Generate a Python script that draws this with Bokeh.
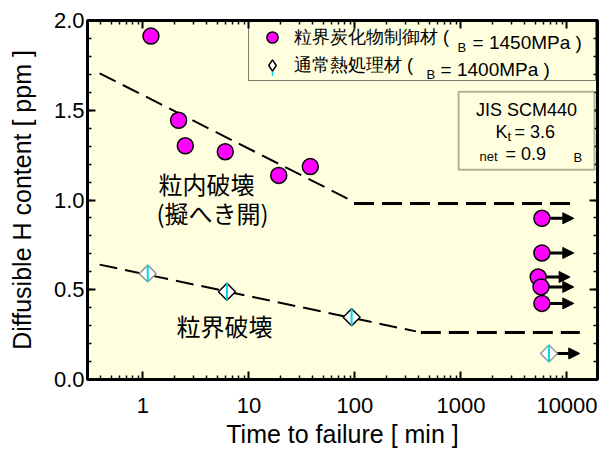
import math
from bokeh.plotting import figure
from bokeh.models import (ColumnDataSource, LinearAxis, LogAxis, FixedTicker,
                          SingleIntervalTicker, PrintfTickFormatter, Range1d, Label,
                          Arrow, NormalHead, BoxAnnotation, Legend, LegendItem)
from bokeh.embed import file_html
from bokeh.resources import INLINE

# ---------------- data ----------------
# grain-boundary-carbide-controlled steel (magenta circles)
cb_time = [1.19, 2.17, 2.51, 5.98, 19.1, 37.9]
cb_h = [1.913, 1.444, 1.302, 1.269, 1.137, 1.186]
# run-outs (no failure) of the same steel
cb_runout_time = [5800, 5800, 5350, 5690, 5800]
cb_runout_h = [0.898, 0.705, 0.571, 0.516, 0.424]
cb_runout_to = [11600, 11600, 10700, 11600, 11600]
# conventional quench & temper (diamonds)
qt_time = [1.11, 6.2, 93, 6760]
qt_h = [0.59, 0.489, 0.347, 0.145]
qt_runout_time = [6760]
qt_runout_h = [0.145]
qt_runout_to = [13200]
# trend lines
upper_slope_t = [0.39, 85]
upper_slope_h = [1.706, 1.008]
upper_flat_t = [98, 11600]
upper_flat_h = [0.98, 0.98]
lower_slope_t = [0.39, 376]
lower_slope_h = [0.64, 0.268]
lower_flat_t = [418, 13200]
lower_flat_h = [0.262, 0.262]

x_ticks = [1, 10, 100, 1000, 10000]
x_tick_labels = ["1", "10", "100", "1000", "10000"]
legend_names = ["粒界炭化物制御材 (", "通常熱処理材 ("]
legend_strength = ["= 1450MPa )", "= 1400MPa )"]

# ---------------- styling ----------------
CREAM = "#FFFFE0"
CYAN = "#00D8E8"
LAT = "Liberation Sans"
CJK = "Noto Sans CJK JP"

# image pixel -> data helpers (for annotation placement only)
def dx(px):
    return 10 ** ((px - 142.4) / 106.0)

def dy(py):
    return (383.0 - py) / 181.5

p = figure(width=602, height=450, x_axis_type="log",
           x_range=Range1d(0.3, 19400), y_range=Range1d(0, 2),
           output_backend="svg", toolbar_location=None,
           min_border_left=87, min_border_right=5, min_border_top=20,
           min_border_bottom=67)
p.background_fill_color = CREAM
p.border_fill_color = "white"
p.outline_line_color = "black"
p.outline_line_width = 3
p.xgrid.visible = False
p.ygrid.visible = False

minor = [m * 10 ** e for e in range(-1, 5) for m in range(2, 10)]
minor = [v for v in minor if 0.3 <= v <= 19400]

def style_axis(ax, labels=True):
    ax.axis_line_width = 3
    ax.major_tick_in = 8
    ax.major_tick_out = 0
    ax.minor_tick_in = 4
    ax.minor_tick_out = 0
    ax.major_tick_line_width = 2
    ax.minor_tick_line_width = 1.5
    if labels:
        ax.major_label_text_font = LAT
        ax.major_label_text_font_size = "22px"
        ax.major_label_text_color = "black"
        ax.axis_label_text_font = LAT
        ax.axis_label_text_font_size = "25px"
        ax.axis_label_text_font_style = "normal"
        ax.axis_label_text_color = "black"
    else:
        ax.major_label_text_font_size = "1px"
        ax.major_label_text_color = None
        ax.major_label_standoff = 0

xax = p.xaxis[0]
xax.ticker = FixedTicker(ticks=x_ticks, minor_ticks=minor)
xax.major_label_overrides = dict(zip(x_ticks, x_tick_labels))
xax.axis_label = "Time to failure [ min ]"
xax.major_label_standoff = 18
xax.axis_label_standoff = 4
style_axis(xax)

yax = p.yaxis[0]
yax.ticker = SingleIntervalTicker(interval=0.5, num_minor_ticks=5)
yax.formatter = PrintfTickFormatter(format="%.1f")
yax.axis_label = "Diffusible H content [ ppm ]"
yax.major_label_standoff = 3
yax.axis_label_standoff = 15
style_axis(yax)

top = LogAxis(ticker=FixedTicker(ticks=x_ticks, minor_ticks=minor))
style_axis(top, labels=False)
p.add_layout(top, "above")
right = LinearAxis(ticker=SingleIntervalTicker(interval=0.5, num_minor_ticks=5))
style_axis(right, labels=False)
p.add_layout(right, "right")

# trend lines
p.line(upper_slope_t, upper_slope_h, line_color="black", line_width=2, line_dash="18 8")
p.line(upper_flat_t, upper_flat_h, line_color="black", line_width=3, line_dash="20 8")
p.line(lower_slope_t, lower_slope_h, line_color="black", line_width=2, line_dash="18 8")
p.line(lower_flat_t, lower_flat_h, line_color="black", line_width=3, line_dash="20 8")

# run-out arrows
head_style = dict(size=11, fill_color="black", line_color="black", line_width=1)
cb_arrow_src = ColumnDataSource(dict(x=cb_runout_time, y=cb_runout_h, xe=cb_runout_to))
p.add_layout(Arrow(end=NormalHead(**head_style), source=cb_arrow_src,
                   x_start="x", y_start="y", x_end="xe", y_end="y",
                   line_width=3, line_color="black", level="underlay"))
qt_arrow_src = ColumnDataSource(dict(x=qt_runout_time, y=qt_runout_h, xe=qt_runout_to))
p.add_layout(Arrow(end=NormalHead(**head_style), source=qt_arrow_src,
                   x_start="x", y_start="y", x_end="xe", y_end="y",
                   line_width=3, line_color="black", level="underlay"))

# markers
cb_src = ColumnDataSource(dict(t=cb_time + cb_runout_time, h=cb_h + cb_runout_h))
r_cb = p.scatter("t", "h", source=cb_src, marker="circle", size=16,
                 fill_color="#FF00FF", line_color="black", line_width=1.5)
qt_src = ColumnDataSource(dict(t=qt_time, h=qt_h,
                               lc=["#999999", "black", "black", "#999999"]))
# upright diamond used as the legend key (legend keys are not rotated); it is drawn
# first and sits fully inside the larger rotated-square diamonds drawn over it
r_qt_key = p.scatter("t", "h", source=qt_src, marker="diamond", size=12,
                     fill_color="white", line_color="black", line_width=1.5)
r_qt = p.scatter("t", "h", source=qt_src, marker="square", size=12, angle=math.pi / 4,
                 fill_color="white", line_color="lc", line_width=1.5)
r_qt_bar = p.scatter("t", "h", source=qt_src, marker="dash", size=17, angle=math.pi / 2,
                     line_color=CYAN, line_width=2)

# legend
legend = Legend(items=[LegendItem(label=legend_names[0], renderers=[r_cb]),
                       LegendItem(label=legend_names[1], renderers=[r_qt_key])],
                location=(161, 298), orientation="vertical",
                padding=1, margin=0, spacing=0,
                glyph_width=44, glyph_height=28, label_height=28,
                label_width=300, label_standoff=0,
                label_text_font=LAT, label_text_font_size="18px",
                label_text_color="black",
                border_line_color="black", border_line_width=1.5,
                background_fill_color=CREAM, background_fill_alpha=0)
p.add_layout(legend, "center")

# cyan bar inside the legend diamond
p.add_layout(BoxAnnotation(left=dx(271.2), right=dx(272.6), top=dy(64), bottom=dy(76),
                           fill_color=CYAN, fill_alpha=1, line_color=None,
                           level="overlay"))

def lab(px, py, text, size, font=LAT, align="left", baseline="middle"):
    p.add_layout(Label(x=dx(px), y=dy(py), text=text, text_font=font,
                       text_font_size=size, text_align=align,
                       text_baseline=baseline, text_color="black",
                       level="overlay"))

# strength part of the legend entries (sigma_B)
lab(457, 47, "B", "13px")
lab(472, 42, legend_strength[0], "19px")
lab(426, 75, "B", "13px")
lab(440, 70, legend_strength[1], "19px")

# material box
p.add_layout(BoxAnnotation(left=dx(458), right=dx(594), top=dy(92), bottom=dy(171),
                           fill_color=CREAM, fill_alpha=1,
                           line_color="black", line_width=2, level="annotation"))
lab(526, 111, "JIS SCM440", "18px", LAT, "center")
lab(507, 133, "K", "18px", LAT, "right")
lab(507, 137, "t", "13px")
lab(514, 133, "= 3.6", "18px")
lab(479, 158, "net", "13px")
lab(505, 155, "= 0.9", "18px")
lab(573, 159, "B", "13px")

# fracture-mode notes
lab(206, 185, "粒内破壊", "24px", CJK, "center")
lab(212, 214, "(擬へき開)", "24px", CJK, "center")
lab(224, 328, "粒界破壊", "24px", CJK, "center")

open("out.html", "w").write(file_html(p, INLINE))
